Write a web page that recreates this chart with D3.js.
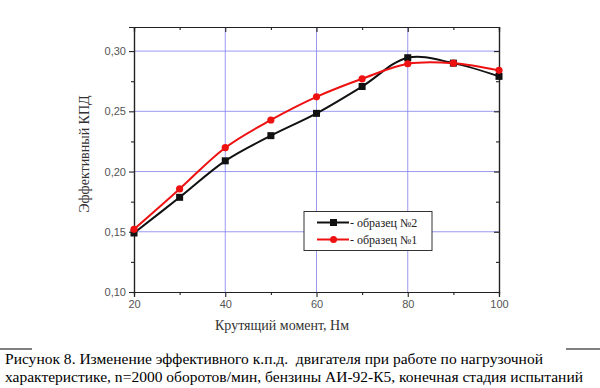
<!DOCTYPE html>
<html><head><meta charset="utf-8">
<script src="https://cdn.jsdelivr.net/npm/d3@7"></script>
<style>body{margin:0;background:#fff}svg{display:block}</style>
</head><body>
<svg id="c" width="600" height="388"></svg>
<script>
const torque = [20, 30, 40, 50, 60, 70, 80, 90, 100];
const sample2 = [0.149, 0.1786, 0.2089, 0.2298, 0.2483, 0.2706, 0.2945, 0.290, 0.279];
const sample1 = [0.152, 0.1856, 0.2198, 0.2428, 0.262, 0.277, 0.2895, 0.290, 0.284];
const xTicks = [20, 40, 60, 80, 100];
const yTicks = [0.10, 0.15, 0.20, 0.25, 0.30];
const legendLabels = ["- образец №2", "- образец №1"];
const captionLines = ["Рисунок 8. Изменение эффективного к.п.д.  двигателя при работе по нагрузочной",
  "характеристике, n=2000 оборотов/мин, бензины АИ-92-К5, конечная стадия испытаний"];

const svg = d3.select("#c");
const L = 134, R = 499, T = 27, B = 292;
const x = d3.scaleLinear().domain([20, 100]).range([L, R]);
const y = d3.scaleLinear().domain([0.10, 0.32]).range([B, T]);

// grid
const g = svg.append("g");
g.selectAll(".gx").data([40, 60, 80]).join("line")
  .attr("x1", d => x(d)).attr("x2", d => x(d)).attr("y1", T).attr("y2", B)
  .attr("stroke", "#8080ee").attr("stroke-width", 0.8);
g.selectAll(".gy").data([0.15, 0.20, 0.25, 0.30]).join("line")
  .attr("y1", d => y(d)).attr("y2", d => y(d)).attr("x1", L).attr("x2", R)
  .attr("stroke", "#8080ee").attr("stroke-width", 0.8);

// axes
const minorX = [30, 50, 70, 90];
const minorYv = [0.125, 0.175, 0.225, 0.275];
const axB = svg.append("g").attr("transform", `translate(0,${B})`)
  .call(d3.axisBottom(x).tickValues(xTicks).tickFormat(d3.format("d")).tickSize(5).tickPadding(3));
const axBm = svg.append("g").attr("transform", `translate(0,${B})`)
  .call(d3.axisBottom(x).tickValues(minorX).tickFormat("").tickSize(3));
const axT = svg.append("g").attr("transform", `translate(0,${T})`)
  .call(d3.axisTop(x).tickValues(xTicks).tickFormat("").tickSize(-5));
const axTm = svg.append("g").attr("transform", `translate(0,${T})`)
  .call(d3.axisTop(x).tickValues(minorX).tickFormat("").tickSize(-3));
const fmt = d => d3.format(".2f")(d).replace(".", ",");
const axL = svg.append("g").attr("transform", `translate(${L},0)`)
  .call(d3.axisLeft(y).tickValues(yTicks).tickFormat(fmt).tickSize(5).tickPadding(3));
const axLm = svg.append("g").attr("transform", `translate(${L},0)`)
  .call(d3.axisLeft(y).tickValues(minorYv).tickFormat("").tickSize(3));
const axR = svg.append("g").attr("transform", `translate(${R},0)`)
  .call(d3.axisRight(y).tickValues(yTicks).tickFormat("").tickSize(-5));
const axRm = svg.append("g").attr("transform", `translate(${R},0)`)
  .call(d3.axisRight(y).tickValues(minorYv).tickFormat("").tickSize(-3));
[axB, axBm, axT, axTm, axL, axLm, axR, axRm].forEach(a => {
  a.select(".domain").attr("stroke", "#222").attr("stroke-width", 1.2);
  a.selectAll(".tick line").attr("stroke", "#222").attr("stroke-width", 1.1);
  a.selectAll("text").attr("font-family", "Liberation Sans, Arial, sans-serif")
    .attr("font-size", 11).attr("fill", "#555");
});

// lines
const line = d3.line().x((d, i) => x(torque[i])).y(d => y(d)).curve(d3.curveCatmullRom.alpha(0.5));
svg.append("path").datum(sample2).attr("d", line).attr("fill", "none")
  .attr("stroke", "#111").attr("stroke-width", 2);
svg.append("path").datum(sample1).attr("d", line).attr("fill", "none")
  .attr("stroke", "#ee1111").attr("stroke-width", 2);
svg.selectAll(".m2").data(sample2).join("rect")
  .attr("x", (d, i) => x(torque[i]) - 3.5).attr("y", d => y(d) - 3.5)
  .attr("width", 7).attr("height", 7).attr("fill", "#111");
svg.selectAll(".m1").data(sample1).join("circle")
  .attr("cx", (d, i) => x(torque[i])).attr("cy", d => y(d)).attr("r", 3.6)
  .attr("fill", "#ee1111");

// legend
const lg = svg.append("g");
lg.append("rect").attr("x", 304).attr("y", 211.5).attr("width", 128).attr("height", 39)
  .attr("fill", "#fff").attr("stroke", "#333").attr("stroke-width", 1);
const lc = ["#111", "#ee1111"];
legendLabels.forEach((t, i) => {
  const yy = 222.5 + i * 17;
  lg.append("line").attr("x1", 317).attr("x2", 349).attr("y1", yy).attr("y2", yy)
    .attr("stroke", lc[i]).attr("stroke-width", 2);
  if (i === 0) lg.append("rect").attr("x", 330).attr("y", yy - 3.5).attr("width", 7).attr("height", 7).attr("fill", lc[i]);
  else lg.append("circle").attr("cx", 333.5).attr("cy", yy).attr("r", 3.5).attr("fill", lc[i]);
  lg.append("text").attr("x", 350).attr("y", yy + 4).text(t)
    .attr("font-family", "Liberation Serif, Times New Roman, serif").attr("font-size", 12).attr("fill", "#222");
});

// titles
svg.append("text").attr("x", 282).attr("y", 330).attr("text-anchor", "middle")
  .attr("font-family", "Liberation Serif, Times New Roman, serif").attr("font-size", 14).attr("fill", "#333")
  .text("Крутящий момент, Нм");
svg.append("text").attr("transform", "translate(89,154) rotate(-90)").attr("text-anchor", "middle")
  .attr("font-family", "Liberation Serif, Times New Roman, serif").attr("font-size", 14).attr("fill", "#333")
  .text("Эффективный КПД");

// caption
svg.append("line").attr("x1", 0).attr("x2", 32).attr("y1", 349).attr("y2", 349).attr("stroke", "#000");
svg.append("line").attr("x1", 566).attr("x2", 600).attr("y1", 349).attr("y2", 349).attr("stroke", "#000");
const capW = [538, 578];
captionLines.forEach((t, i) => {
  svg.append("text").attr("x", 5).attr("y", 364 + i * 18).text(t)
    .attr("xml:space", "preserve").style("white-space", "pre")
    .attr("textLength", capW[i]).attr("lengthAdjust", "spacingAndGlyphs")
    .attr("font-family", "Liberation Serif, Times New Roman, serif").attr("font-size", 15.5).attr("fill", "#000");
});
</script>
</body></html>
